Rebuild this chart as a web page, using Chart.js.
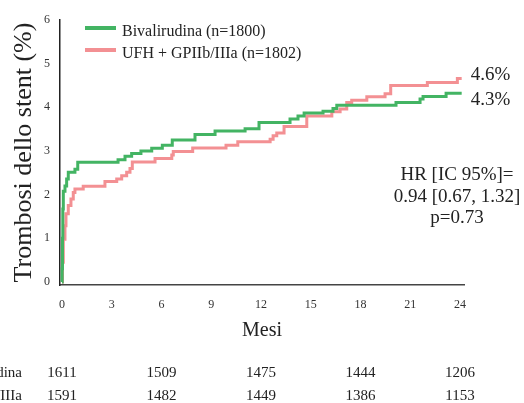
<!DOCTYPE html>
<html>
<head>
<meta charset="utf-8">
<script src="https://cdn.jsdelivr.net/npm/chart.js@4/dist/chart.umd.min.js"></script>
<style>
  html, body { margin: 0; padding: 0; background: #fff; }
  #wrap { width: 524px; height: 403px; }
</style>
</head>
<body>
<div id="wrap"><canvas id="km"></canvas></div>
<script>
// curve values (months, cumulative %)
const bivMonths = [0, 0.01, 0.03, 0.05, 0.08, 0.18, 0.28, 0.38, 0.78, 0.95, 3.38, 3.8, 4.2, 4.76, 5.41, 6.05, 6.65, 8.02, 9.23, 11.04, 11.88, 13.75, 14.23, 14.6, 15.74, 16.34, 16.57, 20.14, 21.59, 21.77, 23.16, 24.1];
const bivValues = [0, 0.3, 1.0, 1.67, 2.08, 2.2, 2.36, 2.51, 2.58, 2.74, 2.8, 2.88, 2.94, 3.0, 3.06, 3.13, 3.25, 3.38, 3.46, 3.51, 3.65, 3.73, 3.8, 3.87, 3.91, 3.97, 4.05, 4.11, 4.19, 4.25, 4.32, 4.32];

const ufhMonths = [0, 0.03, 0.08, 0.18, 0.24, 0.38, 0.54, 0.68, 0.78, 1.28, 2.59, 3.3, 3.6, 3.9, 4.1, 4.24, 5.61, 6.62, 6.71, 7.88, 9.89, 10.6, 12.55, 12.73, 12.95, 13.39, 14.76, 16.27, 16.77, 17.17, 17.47, 18.38, 19.48, 19.82, 22.03, 23.84, 24.1];
const ufhValues = [0, 0.45, 0.98, 1.29, 1.56, 1.75, 1.9, 2.05, 2.13, 2.19, 2.3, 2.36, 2.43, 2.51, 2.6, 2.75, 2.83, 2.91, 2.99, 3.07, 3.13, 3.21, 3.27, 3.35, 3.41, 3.56, 3.8, 3.9, 3.96, 4.11, 4.16, 4.24, 4.31, 4.5, 4.57, 4.66, 4.66];

const seriesNames = ['Bivalirudina (n=1800)', 'UFH + GPIIb/IIIa (n=1802)'];
const endLabels = ['4.3%', '4.6%'];
const hrLines = ['HR [IC 95%]=', '0.94 [0.67, 1.32]', 'p=0.73'];

// numbers at risk
const riskGroups = ['Bivalirudina', 'UFH + GPIIb/IIIa'];
const riskMonths = [0, 6, 12, 18, 24];
const bivRisk = [1611, 1509, 1475, 1444, 1206];
const ufhRisk = [1591, 1482, 1449, 1386, 1153];

const serif = '"Liberation Serif", "Times New Roman", serif';
const green = '#43b463';
const pink = '#f39093';
const ink = '#222';

function toPoints(xs, ys) {
    return xs.map((m, i) => ({ x: m, y: ys[i] }));
}

const extras = {
    id: 'extras',
    afterDraw(chart) {
        const ctx = chart.ctx;
        const x = chart.scales.x, y = chart.scales.y;
        const area = chart.chartArea;
        ctx.save();
        ctx.fillStyle = ink;

        // legend
        ctx.lineWidth = 4;
        [green, pink].forEach((c, i) => {
            const ly = 28 + i * 22;
            ctx.strokeStyle = c;
            ctx.beginPath();
            ctx.moveTo(85, ly);
            ctx.lineTo(116, ly);
            ctx.stroke();
            ctx.font = '16px ' + serif;
            ctx.textAlign = 'left';
            ctx.textBaseline = 'alphabetic';
            ctx.fillText(seriesNames[i], 122, 36 + i * 21.5);
        });

        // end-of-curve labels
        ctx.font = '19px ' + serif;
        ctx.textAlign = 'left';
        const lastX = x.getPixelForValue(24.1) + 9;
        ctx.fillText(endLabels[1], lastX, y.getPixelForValue(ufhValues[ufhValues.length - 1]) + 1);
        ctx.fillText(endLabels[0], lastX, y.getPixelForValue(bivValues[bivValues.length - 1]) + 12);

        // HR box
        ctx.textAlign = 'center';
        hrLines.forEach((t, i) => {
            ctx.fillText(t, area.right - 7, 180 + i * 21.5);
        });

        // numbers at risk table
        ctx.font = '15px ' + serif;
        [bivRisk, ufhRisk].forEach((row, r) => {
            const by = 377 + r * 23;
            ctx.textAlign = 'right';
            ctx.fillText(riskGroups[r], 22, by);
            ctx.textAlign = 'center';
            row.forEach((n, i) => {
                ctx.fillText(String(n), x.getPixelForValue(riskMonths[i]), by);
            });
        });
        ctx.restore();
    }
};

const data = {
    datasets: [{
        label: seriesNames[0],
        data: toPoints(bivMonths, bivValues),
        borderColor: green,
        backgroundColor: green,
        borderWidth: 3,
        stepped: true,
        pointRadius: 0,
        fill: false
    }, {
        label: seriesNames[1],
        data: toPoints(ufhMonths, ufhValues),
        borderColor: pink,
        backgroundColor: pink,
        borderWidth: 3,
        stepped: true,
        pointRadius: 0,
        fill: false
    }]
};

const config = {
    type: 'line',
    data: data,
    options: {
        responsive: true,
        maintainAspectRatio: false,
        animation: false,
        layout: {
            padding: { left: 0, top: 20, right: 60, bottom: 58 }
        },
        plugins: {
            legend: { display: false },
            tooltip: { enabled: false }
        },
        scales: {
            x: {
                type: 'linear',
                min: -0.12,
                max: 24.24,
                afterFit: (s) => { s.height = 60; },
                grid: { display: false, drawTicks: false },
                border: { display: true, color: '#444', width: 1.5 },
                ticks: {
                    stepSize: 3,
                    includeBounds: false,
                    padding: 13,
                    color: '#333',
                    font: { family: serif, size: 12 }
                },
                title: {
                    display: true,
                    text: 'Mesi',
                    color: ink,
                    padding: { top: 0, bottom: 2 },
                    font: { family: serif, size: 20 }
                }
            },
            y: {
                min: -0.07,
                max: 6,
                afterFit: (s) => { s.width = 60; },
                grid: { display: false, drawTicks: false },
                border: { display: true, color: '#222', width: 1.5 },
                ticks: {
                    stepSize: 1,
                    includeBounds: false,
                    padding: 10,
                    color: '#333',
                    font: { family: serif, size: 12 }
                },
                title: {
                    display: true,
                    text: 'Trombosi dello stent (%)',
                    color: ink,
                    padding: { top: 9, bottom: 0 },
                    font: { family: serif, size: 26 }
                }
            }
        }
    },
    plugins: [extras]
};

const myChart = new Chart(document.getElementById('km'), config);
</script>
</body>
</html>
